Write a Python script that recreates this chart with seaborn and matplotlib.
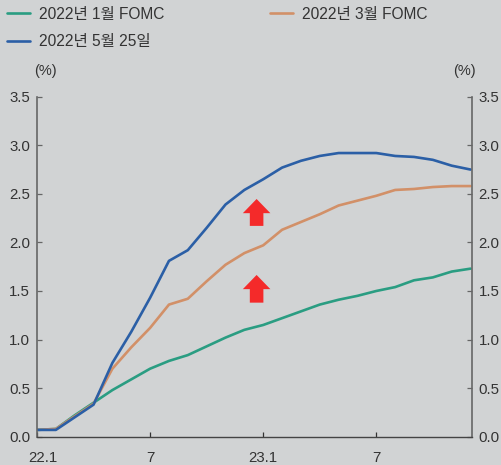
import matplotlib
matplotlib.use("Agg")
import matplotlib.pyplot as plt
import matplotlib.transforms as mtrans
import pandas as pd
import seaborn as sns

months = list(range(24))
jan_fomc = [0.07, 0.08, 0.22, 0.35, 0.48, 0.59, 0.70, 0.78, 0.84, 0.93, 1.02, 1.10,
            1.15, 1.22, 1.29, 1.36, 1.41, 1.45, 1.50, 1.54, 1.61, 1.64, 1.70, 1.73]
mar_fomc = [0.07, 0.08, 0.21, 0.34, 0.70, 0.92, 1.12, 1.36, 1.42, 1.60, 1.77, 1.89,
            1.97, 2.13, 2.21, 2.29, 2.38, 2.43, 2.48, 2.54, 2.55, 2.57, 2.58, 2.58]
may_25 = [0.07, 0.07, 0.20, 0.33, 0.76, 1.08, 1.43, 1.81, 1.92, 2.15, 2.39, 2.54,
          2.65, 2.77, 2.84, 2.89, 2.92, 2.92, 2.92, 2.89, 2.88, 2.85, 2.79, 2.75]
series_names = ["2022년 1월 FOMC", "2022년 3월 FOMC", "2022년 5월 25일"]
series_colors = ["#2A9D82", "#D29068", "#2B5FA6"]
x_ticks = [0, 6, 12, 18]
x_labels = ["22.1", "7", "23.1", "7"]
y_ticks = [0.0, 0.5, 1.0, 1.5, 2.0, 2.5, 3.0, 3.5]
arrow_x = 11.65
arrow_spans = [(1.38, 1.665), (2.17, 2.447)]

BG = "#D1D3D4"
INK = "#333333"
AXIS = "#666666"

sns.set_theme(style="white")
plt.rcParams["font.family"] = ["Liberation Sans", "Noto Sans CJK KR", "DejaVu Sans"]

df = pd.DataFrame({
    "month": months * 3,
    "value": jan_fomc + mar_fomc + may_25,
    "series": [n for n in series_names for _ in months],
})

W, H = 502, 465
fig = plt.figure(figsize=(W / 100, H / 100), dpi=100, facecolor=BG)
ax = fig.add_axes([37 / W, 1 - 436.7 / H, 434.5 / W, 340 / H], facecolor=BG)

sns.lineplot(data=df, x="month", y="value", hue="series", hue_order=series_names,
             palette=series_colors, linewidth=1.9, ax=ax)

# Upward arrows marking the shift between successive projections
for low, high in arrow_spans:
    ax.arrow(arrow_x, low, 0, high - low, width=0.72, head_width=1.46, head_length=0.146,
             length_includes_head=True, color="#F42A2A", linewidth=0, zorder=4)

ax.set_xlim(0, 23.05)
ax.set_ylim(0, 3.5)
ax.set_xlabel("")
ax.set_ylabel("")
ax.set_xticks(x_ticks)
ax.set_xticklabels(x_labels, fontsize=10.8, color=INK)
ax.set_yticks(y_ticks)
ax.set_yticklabels([f"{v:.1f}" for v in y_ticks], fontsize=10.8, color=INK)
ax.tick_params(axis="y", which="major", direction="in", length=3.4, width=0.9, color=AXIS,
               left=True, right=True, labelleft=True, labelright=True, pad=5)
ax.tick_params(axis="x", direction="in", length=3.4, width=0.9, color="#333333", bottom=True, pad=10)

for side in ("left", "right"):
    ax.spines[side].set_visible(True)
    ax.spines[side].set_color(AXIS)
    ax.spines[side].set_linewidth(1.2)
ax.spines["bottom"].set_color("#444444")
ax.spines["bottom"].set_linewidth(1.0)
ax.spines["top"].set_visible(False)

# Nudge the first date label clear of the corner
first = ax.get_xticklabels()[0]
first.set_transform(first.get_transform() + mtrans.ScaledTranslation(5.5 / 100, 0, fig.dpi_scale_trans))

fig.text(45 / W, 1 - 71 / H, "(%)", fontsize=10.5, color=INK, ha="center", va="center")
fig.text(464 / W, 1 - 71 / H, "(%)", fontsize=10.5, color=INK, ha="center", va="center")

handles, labels = ax.get_legend_handles_labels()
order = [0, 2, 1]
leg = ax.legend([handles[i] for i in order], [labels[i] for i in order], ncols=2,
                loc="upper left", bbox_to_anchor=(0.0 / W, 1 - 0.0 / H), bbox_transform=fig.transFigure,
                frameon=False, fontsize=11.2, labelcolor=INK, handlelength=1.48, handletextpad=0.58,
                columnspacing=6.8, labelspacing=0.8, borderaxespad=0.34, borderpad=0.1)

fig.savefig("out.png", dpi=100, facecolor=BG)
